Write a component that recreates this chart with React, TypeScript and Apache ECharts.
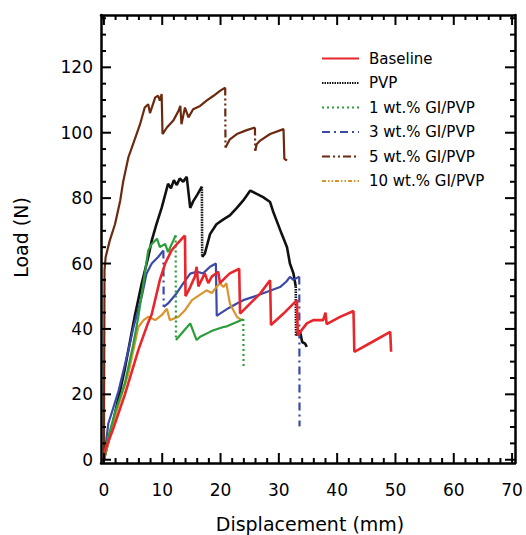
import React, { useEffect, useRef } from "react";
import * as echarts from "echarts";

type P = [number, number];

const seriesNames = [
  "Baseline",
  "PVP",
  "1 wt.% GI/PVP",
  "3 wt.% GI/PVP",
  "5 wt.% GI/PVP",
  "10 wt.% GI/PVP",
];

const baseline: P[] = [
  [0, 0], [0.2, 3], [1.5, 9], [3.6, 20], [5.9, 33.5], [7.6, 42], [8.2, 44.5], [9.6, 55],
  [10.5, 60], [11.6, 64], [12.8, 66.5], [13.9, 68.6], [14.0, 50], [14.8, 52.8], [15.6, 56],
  [15.9, 59], [16.2, 53], [17.3, 57], [17.9, 54], [18.5, 56], [19.6, 57.5], [19.9, 54],
  [21.0, 56], [21.6, 57], [23.2, 58.4], [23.35, 44.7], [25.1, 47.8], [26.8, 50.8], [28.5, 54.9],
  [28.65, 41.2], [30.8, 44.7], [33.1, 48.8], [33.25, 38.1], [34.8, 41.7], [35.9, 42.7],
  [37.6, 42.7], [38.0, 45], [38.2, 41.5], [40.5, 43.7], [42.8, 45.5], [42.95, 33], [46, 36],
  [49.1, 39.1], [49.25, 33],
];

const pvp: P[] = [
  [0, 0], [1.5, 11], [3.5, 27], [5.3, 44], [6.5, 54], [7.6, 62], [8.2, 67], [9.0, 72],
  [9.9, 77], [10.5, 81], [11.0, 84.4], [11.5, 83], [12.0, 85.5], [12.5, 84], [13.0, 86],
  [13.6, 85], [14.2, 86.5], [14.8, 77], [15.3, 79], [16.0, 81], [16.8, 83.5], [16.85, 62],
  [17.3, 63], [18.2, 69], [19.3, 72], [20.5, 73.5], [21.6, 74.7], [22.8, 77], [23.9, 79.3],
  [25.1, 82.3], [26.2, 81.3], [27.3, 80.3], [28.5, 78.8], [29.0, 76], [29.6, 73.2],
  [30.5, 69], [31.4, 65], [31.9, 60], [32.5, 57], [32.9, 53], [32.95, 38], [33.6, 39.5],
  [34.0, 36], [34.5, 35.5], [34.8, 34.5],
];

const gi1: P[] = [
  [0, 0], [0.75, 7], [2, 15], [3.6, 23.4], [5.0, 35], [5.9, 43.7], [7.6, 64], [8.2, 66],
  [9.1, 67.6], [9.6, 65], [10.5, 66], [11.0, 63.5], [11.9, 67], [12.3, 68.6], [12.35, 36.6],
  [13.5, 39], [14.8, 41.7], [15.9, 36.6], [16.5, 37.6], [18.2, 39.1], [18.8, 39.6],
  [20.5, 40.6], [21.1, 40.8], [23.6, 42.7], [23.9, 43], [23.95, 28.5],
];

const gi3: P[] = [
  [0, 0], [0.75, 11], [2.5, 21], [4.2, 33.5], [5.0, 40], [6.5, 50], [7.3, 56.9], [8.2, 60],
  [9.3, 62], [10.2, 64], [10.25, 46.7], [11.0, 47.8], [12.3, 50.5], [13.6, 53.9],
  [14.8, 56.9], [15.9, 57.5], [17.0, 57], [18.2, 59], [19.2, 60], [19.35, 44], [19.9, 44.7],
  [21.5, 46.5], [22.8, 47.8], [23.9, 48.8], [25.6, 49.8], [27.9, 51.3], [30.2, 52.8],
  [31.3, 54.5], [31.9, 55.9], [32.5, 55], [33.5, 56], [33.55, 10.2],
];

const gi5: P[] = [
  [0, 0], [0.1, 58], [0.3, 62], [1.0, 67], [1.9, 72], [2.8, 79.3], [3.3, 85], [4.2, 92.5],
  [5.0, 96.5], [6.2, 102.6], [7.0, 107.7], [7.6, 108.7], [7.9, 106], [8.8, 110.8],
  [9.3, 111.3], [9.6, 109.8], [9.9, 111.8], [10.05, 99.6], [10.8, 101.6], [11.9, 103.7],
  [12.8, 106.7], [13.1, 108.2], [13.3, 102.6], [13.9, 107.7], [14.5, 104.7], [15.3, 107.2],
  [16.5, 108.2], [17.6, 109.8], [18.8, 111.3], [19.9, 112.8], [20.8, 113.8], [20.85, 95.5],
  [21.6, 98], [22.8, 99.6], [24.5, 100.8], [25.9, 101.6], [25.95, 94.5], [26.2, 96.5],
  [26.8, 97.6], [28.5, 99.6], [30.8, 101.1], [30.95, 92], [31.4, 91.5],
];

const gi10: P[] = [
  [0, 0], [1.9, 13.2], [4.2, 26.4], [5.9, 40.6], [6.8, 42.7], [7.6, 43.7], [8.8, 42.7],
  [9.9, 44.2], [10.8, 46.2], [11.3, 42.7], [12.8, 43.7], [13.9, 45.7], [15.1, 48.8],
  [16.5, 50.5], [17.6, 51.8], [18.5, 51], [19.3, 52.8], [19.9, 54], [20.5, 52.8], [21.0, 54],
  [21.3, 50.8], [21.6, 47.8], [22.2, 45.7], [22.8, 43.7], [23.6, 42.7],
];

const xMajorTicks = [0, 10, 20, 30, 40, 50, 60, 70];
const yMajorTicks = [0, 20, 40, 60, 80, 100, 120];

const seriesData: P[][] = [baseline, pvp, gi1, gi3, gi5, gi10];
const colors = ["#e8262b", "#111111", "#2a9d3a", "#3b4aa8", "#6b2a10", "#d8952e"];
const dashes: any[] = [
  "solid",
  [1.5, 1],
  [2, 3],
  [8, 4, 2, 4],
  [8, 3, 2, 3, 2, 3],
  [4, 2, 1.5, 2, 1.5, 2],
];
const widths = [2.6, 2.6, 2.2, 2.2, 2.2, 2.2];
const drawOrder = [1, 3, 5, 2, 4, 0];

function split(pts: P[]) {
  const main: any[] = [];
  const drops: any[] = [];
  for (let i = 0; i < pts.length; i++) {
    main.push(pts[i]);
    if (i < pts.length - 1 && Math.abs(pts[i + 1][0] - pts[i][0]) < 0.1) {
      main.push([pts[i][0], "-"]);
      drops.push(pts[i], pts[i + 1], [pts[i + 1][0], "-"]);
    }
  }
  return { main, drops };
}

function steps(max: number, step: number) {
  const out: number[] = [];
  for (let v = 0; v <= max + 1e-9; v += step) out.push(Math.round(v * 1000) / 1000);
  return out;
}

export default function App() {
  const ref = useRef<HTMLDivElement>(null);
  useEffect(() => {
    if (!ref.current) return;
    const chart = echarts.init(ref.current, null, { renderer: "svg" });
    const font = "DejaVu Sans";
    const xMin = -0.5, xMax = 70.5, yMin = -1, yMax = 136;
    const gridLeft = 101, gridRight = 11, gridTop = 15, gridBottom = 72;
    const W = 526, H = 535;
    const plotW = W - gridLeft - gridRight;
    const plotH = H - gridTop - gridBottom;
    // same linear mapping as the value axes
    const px = (x: number) => gridLeft + ((x - xMin) / (xMax - xMin)) * plotW;
    const py = (y: number) => gridTop + ((yMax - y) / (yMax - yMin)) * plotH;
    const xTickVals = steps(70, 2);
    const yTickVals = steps(135, 5);
    const isMajorX = (v: number) => Math.abs(v % 10) < 1e-6;
    const isMajorY = (v: number) => Math.abs(v % 20) < 1e-6;

    const series: any[] = [];
    drawOrder.forEach((i) => {
      const { main, drops } = split(seriesData[i]);
      series.push({
        type: "line",
        name: seriesNames[i],
        data: main,
        symbol: "none",
        showSymbol: false,
        connectNulls: false,
        color: colors[i],
        lineStyle: { color: colors[i], width: widths[i], type: "solid" },
        z: 3 + drawOrder.indexOf(i),
      });
      series.push({
        type: "line",
        name: seriesNames[i] + " drop",
        data: drops,
        symbol: "none",
        showSymbol: false,
        connectNulls: false,
        color: colors[i],
        lineStyle: { color: colors[i], width: widths[i], type: dashes[i] },
        z: 3 + drawOrder.indexOf(i),
      });
    });

    // Inward tick marks on all four sides, drawn as thin filled rects.
    const ticks: any[] = [];
    const bar = (x: number, y: number, w: number, h: number) => ({
      type: "rect",
      z: 100,
      shape: { x, y, width: w, height: h },
      style: { fill: "#000" },
    });
    const bottomY = H - gridBottom;
    const topY = gridTop;
    const leftX = gridLeft;
    const rightX = W - gridRight;
    xTickVals.forEach((v) => {
      const len = isMajorX(v) ? 10 : 5;
      const x = px(v);
      ticks.push(bar(x - 1, bottomY - len, 2, len));
      ticks.push(bar(x - 1, topY, 2, len));
    });
    yTickVals.forEach((v) => {
      const len = isMajorY(v) ? 10 : 5;
      const y = py(v);
      ticks.push(bar(leftX, y - 1, len, 2));
      ticks.push(bar(rightX - len, y - 1, len, 2));
    });

    const mkAxisLine = () => ({ show: true, onZero: false, lineStyle: { color: "#000", width: 2.5 } });

    chart.setOption({
      animation: false,
      grid: {
        show: false,
        left: gridLeft,
        right: gridRight,
        top: gridTop,
        bottom: gridBottom,
      },
      xAxis: [
        {
          type: "value",
          min: xMin,
          max: xMax,
          position: "bottom",
          axisLine: mkAxisLine(),
          splitLine: { show: false },
          axisTick: { show: false },
          axisLabel: { show: true, customValues: xMajorTicks, fontSize: 17, fontFamily: font, color: "#000", margin: 18 },
        },
        {
          type: "value",
          min: xMin,
          max: xMax,
          position: "top",
          axisLine: mkAxisLine(),
          splitLine: { show: false },
          axisTick: { show: false },
          axisLabel: { show: false },
        },
      ],
      yAxis: [
        {
          type: "value",
          min: yMin,
          max: yMax,
          position: "left",
          axisLine: mkAxisLine(),
          splitLine: { show: false },
          axisTick: { show: false },
          axisLabel: { show: true, customValues: yMajorTicks, fontSize: 17, fontFamily: font, color: "#000", margin: 8 },
        },
        {
          type: "value",
          min: yMin,
          max: yMax,
          position: "right",
          axisLine: mkAxisLine(),
          splitLine: { show: false },
          axisTick: { show: false },
          axisLabel: { show: false },
        },
      ],
      legend: {
        orient: "vertical",
        left: 316,
        top: 46,
        itemWidth: 37,
        itemHeight: 14,
        itemGap: 9.5,
        selectedMode: false,
        textStyle: { fontSize: 15, fontFamily: font, color: "#000", padding: [0, 0, 0, 5] },
        data: seriesNames.map((n, i) => ({
          name: n,
          lineStyle: { type: dashes[i], width: 2, color: colors[i] },
          itemStyle: { opacity: 0 },
        })),
      },
      graphic: [
        {
          type: "text",
          x: 310,
          y: 524,
          style: {
            text: "Displacement (mm)",
            fontSize: 19,
            fontFamily: font,
            fill: "#000",
            align: "center",
            verticalAlign: "middle",
          },
        },
        {
          type: "text",
          x: 21,
          y: 237.5,
          rotation: Math.PI / 2,
          style: {
            text: "Load (N)",
            fontSize: 19,
            fontFamily: font,
            fill: "#000",
            align: "center",
            verticalAlign: "middle",
          },
        },
        ...ticks,
      ],
      series,
    });

    return () => chart.dispose();
  }, []);
  return (
    <div
      ref={ref}
      style={{ position: "fixed", left: 0, top: 0, width: 526, height: 535, background: "#fff" }}
    />
  );
}
